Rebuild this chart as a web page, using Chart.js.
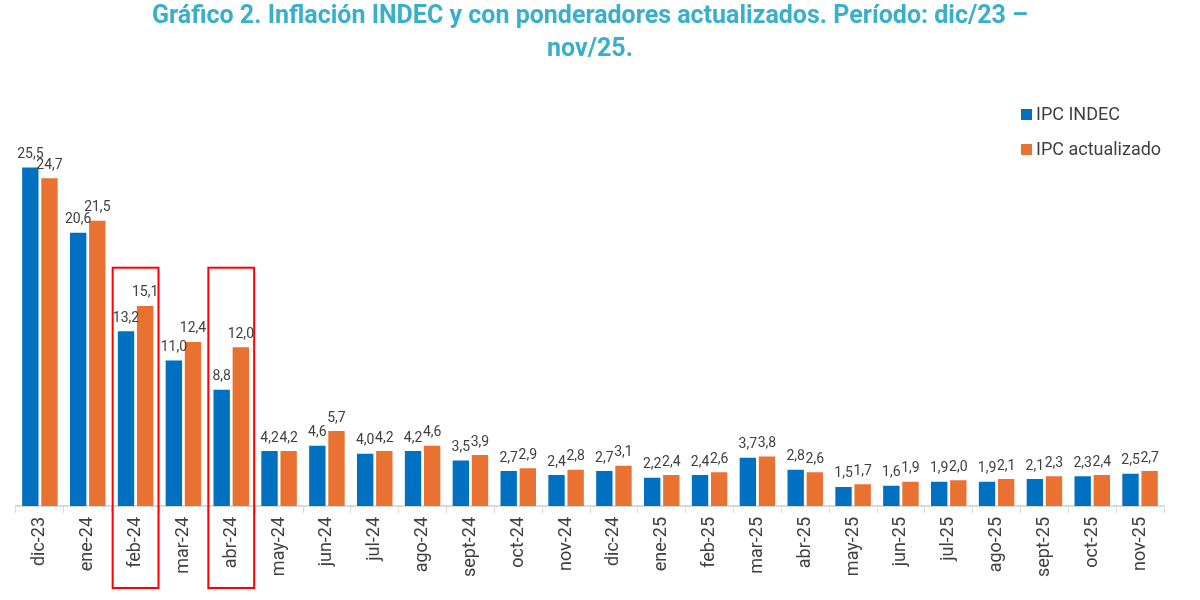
<!DOCTYPE html>
<html><head><meta charset="utf-8">
<script src="https://cdn.jsdelivr.net/npm/chart.js@4.4.1/dist/chart.umd.min.js"></script>
<style>html,body{margin:0;padding:0;background:#fff}#wrap{width:1200px;height:600px;position:relative}</style>
</head><body><div id="wrap"><canvas id="c"></canvas></div>
<script>
const categories = ['dic-23','ene-24','feb-24','mar-24','abr-24','may-24','jun-24','jul-24','ago-24','sept-24','oct-24','nov-24','dic-24','ene-25','feb-25','mar-25','abr-25','may-25','jun-25','jul-25','ago-25','sept-25','oct-25','nov-25'];
const ipcIndec = [25.5,20.6,13.2,11.0,8.8,4.2,4.6,4.0,4.2,3.5,2.7,2.4,2.7,2.2,2.4,3.7,2.8,1.5,1.6,1.9,1.9,2.1,2.3,2.5];
const ipcActualizado = [24.7,21.5,15.1,12.4,12.0,4.2,5.7,4.2,4.6,3.9,2.9,2.8,3.1,2.4,2.6,3.8,2.6,1.7,1.9,2.0,2.1,2.3,2.4,2.7];
const seriesNames = ['IPC INDEC','IPC actualizado'];
const highlighted = ['feb-24','abr-24'];
const titleLines = ['Gráfico 2. Inflación INDEC y con ponderadores actualizados. Período: dic/23 –','nov/25.'];

const BLUE = '#0070C0', ORANGE = '#E97132', TEXT = '#404040';
const fmt = v => v.toFixed(1).replace('.', ',');

const valueLabels = {
  id: 'valueLabels',
  afterDatasetsDraw(chart) {
    const ctx = chart.ctx;
    ctx.save();
    ctx.font = '14px Roboto';
    ctx.fillStyle = TEXT;
    ctx.textAlign = 'center';
    ctx.textBaseline = 'bottom';
    chart.data.datasets.forEach((ds, di) => {
      chart.getDatasetMeta(di).data.forEach((el, i) => {
        ctx.fillText(fmt(ds.data[i]), el.x, el.y - 5);
      });
    });
    ctx.restore();
  }
};

const highlightBoxes = {
  id: 'highlightBoxes',
  afterDraw(chart) {
    const ctx = chart.ctx, xs = chart.scales.x, ys = chart.scales.y;
    const w = xs.width / categories.length;
    ctx.save();
    ctx.strokeStyle = '#FF0000';
    ctx.lineWidth = 2;
    highlighted.forEach(cat => {
      const i = categories.indexOf(cat);
      const cx = xs.getPixelForValue(i);
      const top = ys.getPixelForValue(17.9);
      const bottom = chart.height - 12;
      ctx.strokeRect(cx - w / 2 + 1, top, w - 2, bottom - top);
    });
    ctx.restore();
  }
};

const customLegend = {
  id: 'customLegend',
  afterDraw(chart) {
    const ctx = chart.ctx;
    ctx.save();
    ctx.font = '18px Roboto';
    ctx.textBaseline = 'middle';
    ctx.textAlign = 'left';
    chart.data.datasets.forEach((ds, di) => {
      const y = 114 + di * 35;
      ctx.fillStyle = ds.backgroundColor;
      ctx.fillRect(1021, y - 5, 11, 11);
      ctx.fillStyle = TEXT;
      ctx.fillText(ds.label, 1036, y + 1);
    });
    ctx.restore();
  }
};

new Chart(document.getElementById('c'), {
  type: 'bar',
  data: {
    labels: categories,
    datasets: [
      { label: seriesNames[0], data: ipcIndec, backgroundColor: BLUE, borderColor: 'rgba(255,255,255,0.5)', borderWidth: 1, categoryPercentage: 0.8, barPercentage: 0.96 },
      { label: seriesNames[1], data: ipcActualizado, backgroundColor: ORANGE, borderColor: 'rgba(255,255,255,0.5)', borderWidth: 1, categoryPercentage: 0.8, barPercentage: 0.96 }
    ]
  },
  options: {
    responsive: true,
    maintainAspectRatio: false,
    animation: false,
    devicePixelRatio: 1,
    layout: { padding: { left: 16, right: 36, top: 0, bottom: 19 } },
    plugins: {
      legend: { display: false },
      tooltip: { enabled: false },
      title: {
        display: true,
        text: titleLines,
        color: '#3AAFCB',
        font: { family: 'Roboto', size: 25, weight: 'bold', lineHeight: 1.32 },
        padding: { top: 0, bottom: 34 }
      }
    },
    scales: {
      x: {
        grid: { offset: true, drawOnChartArea: false, tickLength: 7, color: '#D9D9D9', lineWidth: 1 },
        border: { color: '#D9D9D9', width: 2 },
        ticks: { color: TEXT, font: { family: 'Roboto', size: 18 }, minRotation: 90, maxRotation: 90, padding: 4, autoSkip: false }
      },
      y: {
        display: false,
        min: 0,
        max: 30.5,
        grid: { display: false }
      }
    }
  },
  plugins: [valueLabels, highlightBoxes, customLegend]
});
</script>
</body></html>
